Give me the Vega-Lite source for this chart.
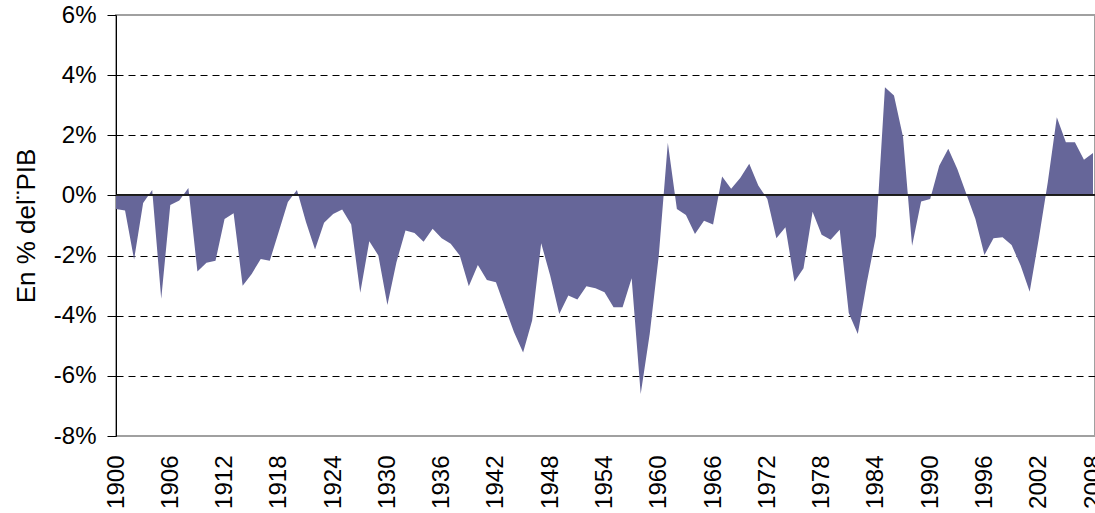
{
  "$schema": "https://vega.github.io/schema/vega-lite/v6.json",
  "autosize": {"type": "none"},
  "padding": {"left": 116, "top": 15, "right": 0, "bottom": 77},
  "width": 979,
  "height": 421,
  "background": "white",
  "config": {
    "font": "Liberation Sans",
    "view": {"stroke": "#a0a0a0", "strokeWidth": 2}
  },
  "data": {
    "values": [
      {"year": 1900, "value": -0.45},
      {"year": 1901, "value": -0.5},
      {"year": 1902, "value": -2.13},
      {"year": 1903, "value": -0.25},
      {"year": 1904, "value": 0.18},
      {"year": 1905, "value": -3.44},
      {"year": 1906, "value": -0.32},
      {"year": 1907, "value": -0.17},
      {"year": 1908, "value": 0.25},
      {"year": 1909, "value": -2.53},
      {"year": 1910, "value": -2.24},
      {"year": 1911, "value": -2.17},
      {"year": 1912, "value": -0.78},
      {"year": 1913, "value": -0.59},
      {"year": 1914, "value": -3.0},
      {"year": 1915, "value": -2.61},
      {"year": 1916, "value": -2.11},
      {"year": 1917, "value": -2.17},
      {"year": 1918, "value": -1.2},
      {"year": 1919, "value": -0.22},
      {"year": 1920, "value": 0.18},
      {"year": 1921, "value": -0.88},
      {"year": 1922, "value": -1.8},
      {"year": 1923, "value": -0.91},
      {"year": 1924, "value": -0.62},
      {"year": 1925, "value": -0.47},
      {"year": 1926, "value": -0.97},
      {"year": 1927, "value": -3.24},
      {"year": 1928, "value": -1.52},
      {"year": 1929, "value": -2.0},
      {"year": 1930, "value": -3.64},
      {"year": 1931, "value": -2.22},
      {"year": 1932, "value": -1.17},
      {"year": 1933, "value": -1.25},
      {"year": 1934, "value": -1.54},
      {"year": 1935, "value": -1.11},
      {"year": 1936, "value": -1.42},
      {"year": 1937, "value": -1.61},
      {"year": 1938, "value": -2.0},
      {"year": 1939, "value": -3.02},
      {"year": 1940, "value": -2.31},
      {"year": 1941, "value": -2.81},
      {"year": 1942, "value": -2.89},
      {"year": 1943, "value": -3.73},
      {"year": 1944, "value": -4.55},
      {"year": 1945, "value": -5.22},
      {"year": 1946, "value": -4.16},
      {"year": 1947, "value": -1.59},
      {"year": 1948, "value": -2.67},
      {"year": 1949, "value": -3.94},
      {"year": 1950, "value": -3.33},
      {"year": 1951, "value": -3.46},
      {"year": 1952, "value": -3.02},
      {"year": 1953, "value": -3.09},
      {"year": 1954, "value": -3.22},
      {"year": 1955, "value": -3.72},
      {"year": 1956, "value": -3.72},
      {"year": 1957, "value": -2.75},
      {"year": 1958, "value": -6.6},
      {"year": 1959, "value": -4.6},
      {"year": 1960, "value": -2.0},
      {"year": 1961, "value": 1.75},
      {"year": 1962, "value": -0.45},
      {"year": 1963, "value": -0.65},
      {"year": 1964, "value": -1.28},
      {"year": 1965, "value": -0.84},
      {"year": 1966, "value": -0.97},
      {"year": 1967, "value": 0.63},
      {"year": 1968, "value": 0.22},
      {"year": 1969, "value": 0.58},
      {"year": 1970, "value": 1.05},
      {"year": 1971, "value": 0.33},
      {"year": 1972, "value": -0.12},
      {"year": 1973, "value": -1.42},
      {"year": 1974, "value": -1.06},
      {"year": 1975, "value": -2.87},
      {"year": 1976, "value": -2.42},
      {"year": 1977, "value": -0.54},
      {"year": 1978, "value": -1.31},
      {"year": 1979, "value": -1.47},
      {"year": 1980, "value": -1.14},
      {"year": 1981, "value": -3.91},
      {"year": 1982, "value": -4.61},
      {"year": 1983, "value": -2.89},
      {"year": 1984, "value": -1.36},
      {"year": 1985, "value": 3.6},
      {"year": 1986, "value": 3.32},
      {"year": 1987, "value": 1.94},
      {"year": 1988, "value": -1.67},
      {"year": 1989, "value": -0.2},
      {"year": 1990, "value": -0.12},
      {"year": 1991, "value": 0.99},
      {"year": 1992, "value": 1.55},
      {"year": 1993, "value": 0.88},
      {"year": 1994, "value": 0.05},
      {"year": 1995, "value": -0.78},
      {"year": 1996, "value": -1.98},
      {"year": 1997, "value": -1.42},
      {"year": 1998, "value": -1.39},
      {"year": 1999, "value": -1.65},
      {"year": 2000, "value": -2.33},
      {"year": 2001, "value": -3.2},
      {"year": 2002, "value": -1.45},
      {"year": 2003, "value": 0.44},
      {"year": 2004, "value": 2.6},
      {"year": 2005, "value": 1.77},
      {"year": 2006, "value": 1.77},
      {"year": 2007, "value": 1.19},
      {"year": 2008, "value": 1.41}
    ]
  },
  "layer": [
    {
      "mark": {"type": "area", "color": "#666699", "opacity": 1},
      "encoding": {
        "x": {
          "field": "year",
          "type": "quantitative",
          "scale": {"domain": [1900, 2008.22], "nice": false, "zero": false},
          "axis": {
            "values": [1900, 1906, 1912, 1918, 1924, 1930, 1936, 1942, 1948, 1954, 1960, 1966, 1972, 1978, 1984, 1990, 1996, 2002, 2008],
            "format": "d",
            "title": null,
            "grid": false,
            "domain": false,
            "ticks": false,
            "tickSize": 0,
            "labelAngle": -90,
            "labelPadding": 19,
            "labelFontSize": 24,
            "labelColor": "black",
            "labelFlush": false,
            "labelOverlap": false
          }
        },
        "y": {
          "field": "value",
          "type": "quantitative",
          "scale": {"domain": [-8, 6], "nice": false},
          "axis": {
            "values": [-8, -6, -4, -2, 0, 2, 4, 6],
            "labelExpr": "datum.value + '%'",
            "title": "En % del¨PIB",
            "titleFontSize": 26,
            "titleFontWeight": "normal",
            "titleColor": "black",
            "titlePadding": 14,
            "labelFontSize": 24,
            "labelColor": "black",
            "labelPadding": 11,
            "tickColor": "black",
            "tickSize": 9,
            "domainColor": "black",
            "grid": true,
            "gridColor": "black",
            "gridDash": [7, 5],
            "gridOpacity": {"condition": {"test": "datum.value == -8 || datum.value == 6 || datum.value == 0", "value": 0}, "value": 1}
          }
        }
      }
    },
    {
      "mark": {"type": "rule", "color": "#222222", "strokeWidth": 1},
      "encoding": {"y": {"datum": 0}}
    }
  ]
}
